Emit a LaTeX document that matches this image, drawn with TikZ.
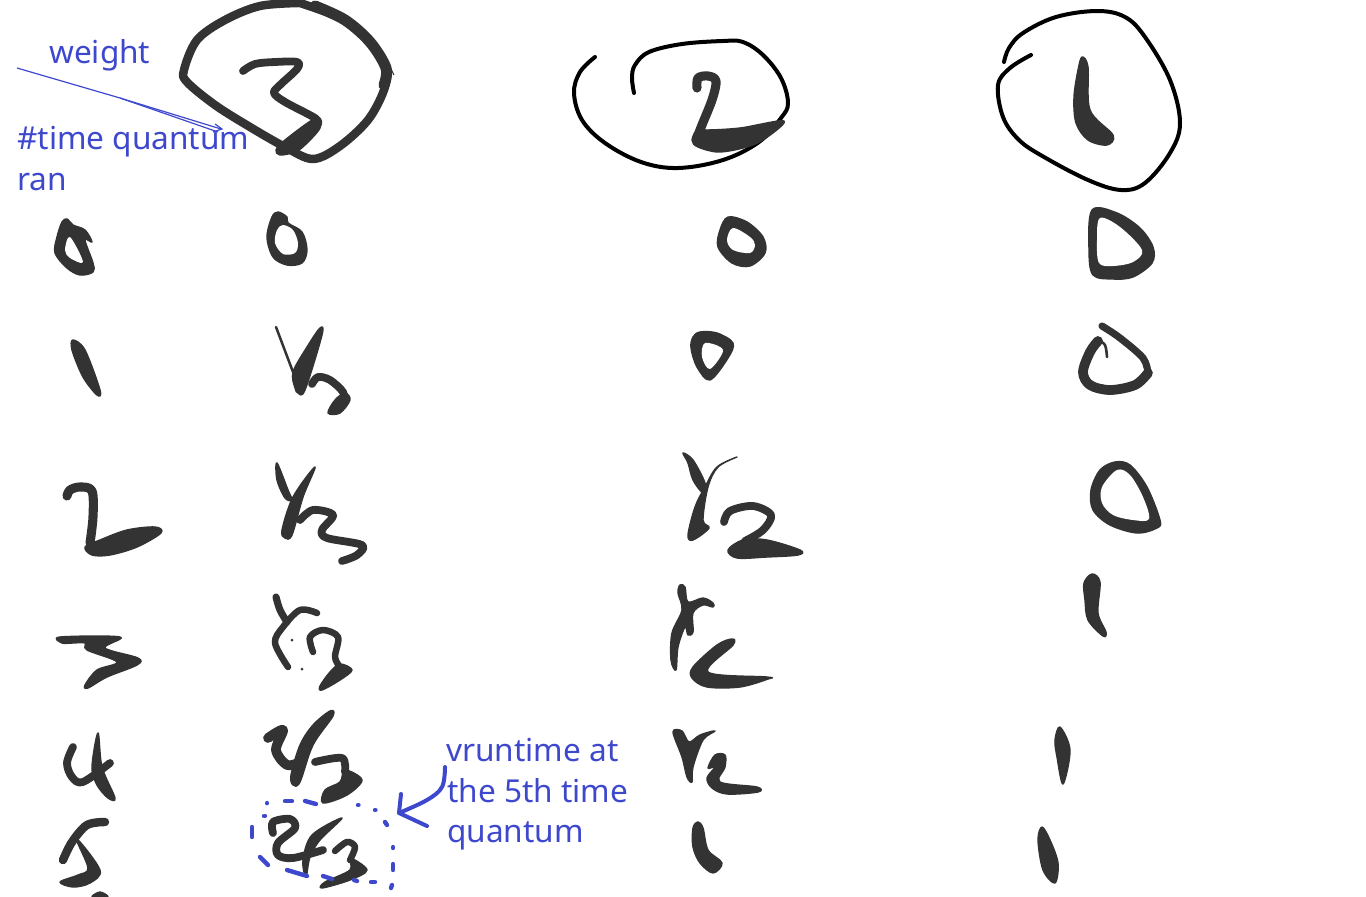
\documentclass[tikz,border=0pt]{standalone}
\usepackage{fontspec}
\setmainfont{Noto Sans}
\definecolor{ink}{HTML}{333333}
\definecolor{bluepen}{HTML}{3E48CD}
\newcommand\blob[1]{\filldraw[ink,line width=1.4pt,line join=round] plot[smooth cycle,tension=0.55] coordinates {#1};}
\newcommand\hole[1]{\fill[white] plot[smooth cycle,tension=0.55] coordinates {#1};}
\newcommand\brush[2]{\draw[ink,line width=1.3*#1pt,line cap=round,line join=round] plot[smooth,tension=0.55] coordinates {#2};}
\newcommand\loopline[1]{\draw[black,line width=4pt,line cap=round,line join=round] plot[smooth,tension=0.6] coordinates {#1};}
\newcommand\bdash[2]{\draw[bluepen,line width=4.4pt,line cap=round] #1 -- #2;}
\tikzset{lab/.style={text=bluepen,anchor=base west,inner sep=0pt,font=\fontsize{31.6}{38}\selectfont}}
\begin{document}
\begin{tikzpicture}[x=1pt,y=-1pt]
\useasboundingbox (0,0) rectangle (1366,897);
\clip (0,0) rectangle (1366,897);
% weight 3 circle
\brush{6.5}{(300,3)(260,6)(225,20)(197,40)(184,70)(187,82)(215,105)(250,127)(285,147)(313,159)(340,146)(368,120)(384,90)(386,68)(370,42)(345,20)(300,3)}
\brush{8.5}{(384,85)(386,68)(370,42)(345,20)(315,6)}
\draw[ink,line width=1pt] (384,55) -- (394,75);
\brush{6}{(243,71)(255,64)(275,62)(297,62)(297,69)(280,85)(274,93)(285,102)(315,118)(318,124)}
\blob{(316,118)(320,128)(305,145)(295,152)(280,155)(276,150)(285,140)}
% weight 2 circle
\loopline{(595,57)(580,72)(574,93)(582,120)(605,143)(641,162)(678,168)(723,160)(759,142)(781,118)(788,103)(781,78)(763,55)(743,42)(723,41)(682,44)(649,52)(635,65)(632,78)(634,93)}
\brush{7}{(697,88)(698,78)(708,76)(716,81)(712,100)(700,130)(697,142)}
\blob{(706,130)(740,128)(784,121)(763,140)(743,148)(718,152)(698,147)(692,140)(698,128)}
% weight 1 circle
\loopline{(1031,55)(1010,68)(998,85)(1003,117)(1019,140)(1044,157)(1088,180)(1121,190)(1145,183)(1170,153)(1180,123)(1170,80)(1145,37)(1125,17)(1097,11)(1056,17)(1023,33)(1009,48)(1004,62)}
\blob{(1082,57)(1088,67)(1090,110)(1113,135)(1107,145)(1088,140)(1076,123)(1074,97)(1078,70)}
% labels
\node[lab] (wlab) at (49,63) {weight};
\node[lab] (tlab) at (17,149) {\#time quantum};
\node[lab] (rlab) at (17,190) {ran};
\node[lab] (va) at (446,761) {vruntime at};
\node[lab] (vb) at (447,802) {the 5th time};
\node[lab] (vc) at (447,842) {quantum};
% double arrow
\draw[bluepen,line width=1.2pt] (17,68) -- (120,98) -- (221,129);
\draw[bluepen,line width=1.2pt] (120,98) -- (218,132);
\draw[bluepen,line width=1.2pt,line join=miter] (215,124) -- (222,129) -- (213,132);
% row 0
\blob{(62,222)(67,219)(73,225)(85,230)(92,242)(85,240)(93,263)(93,272)(80,275)(67,268)(55,253)(57,237)}
\hole{(70,237)(83,262)(70,258)(65,250)}
\blob{(278,212)(287,217)(288,223)(302,232)(307,250)(302,263)(287,265)(273,257)(267,237)(272,217)}
\hole{(283,225)(293,230)(298,243)(295,253)(283,254)(275,243)(277,230)}
\blob{(728,217)(747,222)(763,237)(765,253)(750,266)(732,263)(718,247)(720,230)}
\hole{(733,228)(750,237)(755,245)(750,253)(733,250)(727,240)}
\blob{(1092,210)(1117,213)(1140,228)(1153,247)(1152,263)(1133,277)(1113,279)(1093,275)(1089,250)}
\hole{(1100,218)(1120,227)(1142,250)(1133,262)(1113,266)(1099,263)(1097,240)}
% row 1
\blob{(73,340)(85,350)(100,390)(97,395)(83,377)(72,350)}
\draw[ink,line width=2.5pt,line cap=round] (276,327) -- (293,372);
\blob{(320,328)(322,335)(305,390)(298,393)(295,388)(293,372)(307,347)}
\brush{6}{(312,384)(318,377)(330,380)(343,392)(344,402)}
\blob{(345,393)(350,400)(340,413)(328,413)(335,400)}
\blob{(700,332)(717,333)(733,343)(728,358)(710,380)(697,367)(691,348)(693,337)}
\hole{(705,343)(723,350)(710,369)(702,357)}
\brush{5.5}{(1102,326)(1120,338)(1143,358)(1148,373)}
\brush{7.5}{(1148,373)(1135,385)(1110,390)(1090,385)(1083,372)(1090,352)(1098,341)}
\brush{2}{(1098,340)(1105,345)(1107,357)}
% row 2
\brush{7}{(67,496)(70,490)(80,487)(92,491)(93,517)(90,543)}
\blob{(85,547)(100,540)(127,530)(155,527)(161,533)(137,547)(110,555)(92,555)}
\blob{(277,463)(288,490)(292,500)(285,498)(277,480)}
\blob{(315,467)(303,497)(292,535)(285,538)(282,530)(293,497)}
\brush{6}{(300,520)(313,510)(333,515)(322,530)(327,538)(362,545)(357,555)(342,561)}
\blob{(683,453)(693,460)(705,483)(703,493)(693,480)(688,463)}
\blob{(737,457)(718,467)(708,487)(703,520)(709,528)(693,540)(688,535)(695,507)(705,487)(717,467)}
\brush{6}{(724,522)(730,511)(753,506)(771,515)(763,530)(745,541)}
\blob{(728,550)(737,558)(767,557)(798,555)(800,550)(767,540)(743,540)}
\blob{(1115,462)(1130,465)(1147,487)(1160,520)(1157,528)(1137,533)(1110,525)(1093,510)(1091,490)(1100,470)}
\hole{(1117,470)(1130,475)(1143,497)(1149,519)(1133,520)(1113,515)(1102,503)(1102,487)}
% row 3
\blob{(60,637)(120,637)(105,648)(138,658)(137,665)(107,677)(88,688)(85,685)(97,670)(117,662)(87,650)(85,643)(73,643)(62,643)}
\brush{5.5}{(276,597)(280,610)(287,622)}
\brush{5}{(317,613)(300,610)(283,627)(275,643)(288,667)}
\brush{5}{(313,652)(310,637)(323,630)(338,637)(335,657)(340,667)}
\blob{(340,664)(352,670)(340,680)(322,690)(320,686)(330,672)}
\fill[ink] (292,640) circle (1.5pt) (302,669) circle (1.5pt);
\blob{(680,585)(685,587)(688,602)(703,598)(713,603)(713,607)(703,605)(693,613)(693,632)(688,635)(685,627)(678,647)(676,670)(671,660)(672,633)(682,610)(678,593)}
\blob{(732,639)(733,645)(708,672)(767,677)(768,679)(740,687)(707,687)(692,678)(693,667)(717,645)}
\blob{(1092,574)(1100,582)(1098,613)(1106,632)(1103,636)(1088,620)(1085,600)(1084,583)}
% row 4
\brush{6}{(73,747)(67,763)(72,777)(83,782)(110,763)}
\blob{(98,733)(102,767)(115,798)(108,798)(97,785)(92,767)}
\brush{7.5}{(268,738)(283,730)(276,750)(287,765)(300,762)}
\blob{(330,711)(333,716)(313,745)(300,782)(293,785)(291,775)(300,745)(313,725)}
\brush{6}{(315,762)(342,758)(345,772)}
\blob{(345,770)(362,780)(347,795)(323,803)(325,790)(340,782)}
\blob{(673,732)(682,731)(689,742)(700,735)(715,731)(703,740)(693,767)(692,782)(687,777)(682,757)}
\blob{(708,768)(715,755)(725,755)(725,767)(720,782)(757,787)(758,792)(727,794)(712,788)(707,778)(715,767)}
\blob{(1060,727)(1070,750)(1063,784)(1057,757)(1055,740)}
% row 5
\brush{6.5}{(105,822)(87,825)(72,842)(63,860)}
\blob{(76,838)(100,870)(90,883)(73,887)(60,882)(78,875)(88,868)}
\blob{(92,897)(100,892)(108,897)}
\brush{6}{(273,833)(273,822)(290,819)(295,828)(278,843)(278,855)(293,858)(323,850)}
\blob{(342,818)(320,840)(310,857)(306,877)(303,860)(312,835)}
\brush{5}{(335,851)(347,842)(355,847)(350,860)}
\blob{(350,858)(367,870)(350,880)(322,888)(325,882)(350,870)}
\blob{(698,822)(703,828)(708,850)(722,863)(713,873)(700,863)(693,847)(693,828)}
\blob{(1042,827)(1050,840)(1058,863)(1055,883)(1043,870)(1038,840)}
% blue dashes
\bdash{(267,803)}{(267,803.2)}
\bdash{(264,816)}{(265,816)}
\bdash{(358,805)}{(358.5,805)}
\bdash{(375,810)}{(375.5,810)}
\bdash{(385,822)}{(387,825)}
\bdash{(393,847)}{(393,848)}
\bdash{(393,864)}{(393,870)}
\bdash{(392,885)}{(391,888)}
\bdash{(371,882)}{(375,882)}
\bdash{(354,880)}{(357,881)}
\bdash{(285,801)}{(292,801)}
\bdash{(305,801)}{(316,804)}
\bdash{(252,827)}{(252,837)}
\bdash{(260,857)}{(268,865)}
\bdash{(287,870)}{(307,876)}
\bdash{(323,876)}{(332,879)}
% callout arrow
\draw[bluepen,line width=4pt,line cap=round,line join=round] plot[smooth,tension=0.6] coordinates {(445,767)(442,787)(427,800)(399,813)};
\draw[bluepen,line width=4pt,line cap=round,line join=round] (401,794) -- (399,813) -- (427,826);
\end{tikzpicture}
\end{document}
